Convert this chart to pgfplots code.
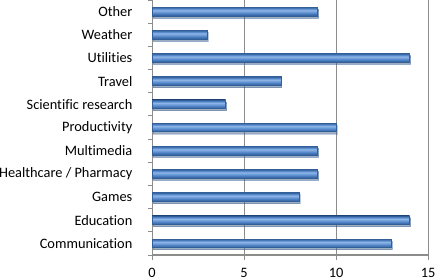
\documentclass[border=0pt]{standalone}
\usepackage{fontspec}
\setmainfont{Carlito}[Ligatures=NoCommon]
\usepackage{pgfplots}
\pgfplotsset{compat=1.18}
\usetikzlibrary{shadows}
\definecolor{barmid}{HTML}{4F83C6}
\definecolor{bartop}{HTML}{8FB6E8}
\definecolor{barbot}{HTML}{2A5891}
\definecolor{baredge}{HTML}{335F99}
\definecolor{gridc}{HTML}{8C8C8C}
\pgfdeclareverticalshading{barshade}{100bp}{%
  color(0bp)=(barbot); color(25bp)=(barbot); color(40bp)=(barmid);
  color(58bp)=(bartop); color(68bp)=(barmid); color(75bp)=(baredge); color(100bp)=(baredge)}
\pgfplotsset{mybar/.style={xbar, bar shift=0pt, bar width=4.6pt, draw=baredge, line width=0.4pt,
  shading=barshade,
  drop shadow={shadow xshift=0.5pt, shadow yshift=-1.1pt, opacity=0.3, fill=black!70}}}
\begin{document}
\begin{tikzpicture}
\begin{axis}[
  scale only axis,
  width=146pt, height=134.9pt,
  xmin=0, xmax=15,
  ymin=-0.5, ymax=10.5,
  xtick={0,5,10,15},
  ytick={0,...,10},
  yticklabels={Communication,Education,Games,Healthcare / Pharmacy,Multimedia,Productivity,Scientific research,Travel,Utilities,Weather,Other},
  minor ytick={-0.5,0.5,...,10.5},
  ytick style={draw=none},
  minor y tick style={draw=gridc, line width=0.5pt},
  xtick style={draw=gridc, line width=0.5pt},
  minor tick length=2.2pt,
  major tick length=2.7pt,
  tick align=outside,
  xmajorgrids, major grid style={gridc, line width=0.6pt},
  axis x line*=bottom, axis y line*=left,
  axis line style={-, gridc, line width=0.6pt},
  tick label style={font=\fontsize{7.6}{9}\selectfont, text=black},
  yticklabel style={xshift=-4.2pt},
  xticklabel style={inner sep=0pt, yshift=-4.1pt},
  /pgf/number format/assume math mode=true,
  clip=false,
]
\addplot[mybar] coordinates {(13,0)};
\addplot[mybar] coordinates {(14,1)};
\addplot[mybar] coordinates {(8,2)};
\addplot[mybar] coordinates {(9,3)};
\addplot[mybar] coordinates {(9,4)};
\addplot[mybar] coordinates {(10,5)};
\addplot[mybar] coordinates {(4,6)};
\addplot[mybar] coordinates {(7,7)};
\addplot[mybar] coordinates {(14,8)};
\addplot[mybar] coordinates {(3,9)};
\addplot[mybar] coordinates {(9,10)};
\coordinate (bl) at (rel axis cs:-0.551,-0.094);
\coordinate (tr) at (rel axis cs:1.025,1.0);
\end{axis}
\pgfresetboundingbox
\path[use as bounding box] (bl) rectangle (tr);
\end{tikzpicture}
\end{document}
